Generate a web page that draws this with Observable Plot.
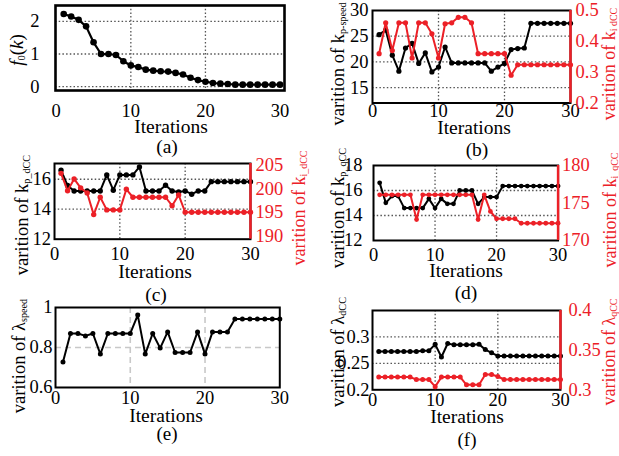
<!DOCTYPE html>
<html><head><meta charset="utf-8">
<script src="https://cdn.jsdelivr.net/npm/d3@7"></script>
<script src="https://cdn.jsdelivr.net/npm/@observablehq/plot@0.6"></script>
<style>
body{margin:0;background:#fff;}
#fig{position:relative;width:619px;height:456px;overflow:hidden;background:#fff;font-family:"Liberation Serif","Times New Roman",serif;color:#000;}
.lbl{position:absolute;white-space:nowrap;line-height:1;transform:translate(-50%,-50%);}
.rot{transform:translate(-50%,-50%) rotate(-90deg);}
.lbl sub{font-size:0.55em;vertical-align:-0.22em;line-height:0;}
.red{color:#ec2027;}
</style></head><body><div id="fig"></div>
<script>
// ---------- data ----------
const iterations = [1,2,3,4,5,6,7,8,9,10,11,12,13,14,15,16,17,18,19,20,21,22,23,24,25,26,27,28,29,30];
const xTicks = [0,10,20,30];

// (a) objective
const aF0 = [2.23,2.15,2.05,1.85,1.36,1.0,1.0,0.97,0.78,0.65,0.6,0.52,0.49,0.47,0.46,0.42,0.37,0.27,0.2,0.15,0.11,0.09,0.08,0.06,0.06,0.06,0.06,0.06,0.06,0.06];
const aYTicks = [0,1,2];

// (b) k_p-speed (left) and k_i dCC (right)
const bKp = [25.3,26.2,21.3,18.2,22.7,23.6,19.7,21.75,18.05,19.0,22.9,19.8,19.8,19.8,19.8,19.8,19.8,18.2,19.0,19.7,22.4,22.6,22.7,27.5,27.5,27.5,27.5,27.5,27.5,27.5];
const bKi = [0.36,0.46,0.37,0.46,0.46,0.346,0.46,0.46,0.4245,0.346,0.457,0.46,0.478,0.478,0.46,0.36,0.36,0.36,0.36,0.36,0.29,0.324,0.324,0.324,0.324,0.324,0.324,0.324,0.324,0.324];
const bYTicks = [15,20,25,30];
const bY2Ticks = [0.2,0.3,0.4,0.5];

// (c) k_p_dCC (left) and k_i_dCC (right)
const cKp = [16.6,15.58,15.22,15.22,15.22,15.22,15.22,16.29,15.27,16.29,16.29,16.29,16.82,15.22,15.22,15.22,15.6,15.22,15.15,15.22,15.0,15.22,15.22,15.84,15.84,15.84,15.84,15.84,15.84,15.84];
const cKi = [203.3,199.6,202.1,200.2,199.1,194.5,198.2,195.5,195.5,195.5,199.9,198.2,198.2,198.2,198.2,198.2,198.2,196.4,198.7,195.0,195.0,195.0,195.0,195.0,195.0,195.0,195.0,195.0,195.0,195.0];
const cYTicks = [12,14,16];
const cY2Ticks = [190,195,200,205];

// (d) k_p_qCC (left) and k_i_qCC (right)
const dKp = [16.61,15.01,15.55,15.55,14.59,14.59,14.59,14.59,15.33,14.59,15.33,14.93,14.93,16.0,16.0,16.0,14.93,15.47,15.47,15.47,16.35,16.35,16.35,16.35,16.35,16.35,16.35,16.35,16.35,16.35];
const dKi = [176.09,176.09,176.09,176.09,176.09,176.09,172.8,176.09,176.09,176.09,176.09,176.09,176.09,176.09,176.09,176.09,172.8,176.09,173.87,172.9,172.9,172.9,172.9,172.3,172.3,172.3,172.3,172.3,172.3,172.3];
const dYTicks = [12,14,16,18];
const dY2Ticks = [170,175,180];

// (e) lambda_speed
const eLam = [0.728,0.87,0.87,0.858,0.87,0.767,0.87,0.87,0.87,0.87,0.962,0.767,0.87,0.797,0.878,0.775,0.775,0.775,0.878,0.767,0.878,0.878,0.878,0.942,0.942,0.942,0.942,0.942,0.942,0.942];
const eYTicks = [0.6,0.8,1];

// (f) lambda_dCC (left) and lambda_qCC (right)
const fLd = [0.2725,0.2725,0.2725,0.2725,0.2725,0.2725,0.2725,0.274,0.274,0.286,0.262,0.2875,0.285,0.285,0.285,0.285,0.286,0.276,0.27,0.264,0.264,0.264,0.264,0.264,0.264,0.264,0.264,0.264,0.264,0.264];
const fLq = [0.316,0.316,0.316,0.316,0.316,0.316,0.313,0.313,0.313,0.304,0.316,0.316,0.316,0.316,0.3063,0.3063,0.3063,0.3193,0.3193,0.3168,0.313,0.313,0.313,0.313,0.313,0.313,0.313,0.313,0.313,0.313];
const fYTicks = [0.2,0.25,0.3];
const fY2Ticks = [0.3,0.35,0.4];

// ---------- drawing ----------
const RED = "#ec2027";
const FONT = '"Liberation Serif","Times New Roman",serif';
const fig = document.getElementById("fig");
const fmt = d => `${d}`;
const series = vals => iterations.map((it, i) => ({it, v: vals[i]}));

function place(el, left, top){
  el.style.position = "absolute";
  el.style.left = left + "px";
  el.style.top = top + "px";
  fig.appendChild(el);
}

function panel(p){
  const ml = 60, mr = 60, mt = 12, mb = 40;
  const [x0, y0, x1, y1] = p.frame;
  const common = {
    width: (x1 - x0) + ml + mr, height: (y1 - y0) + mt + mb,
    marginLeft: ml, marginRight: mr, marginTop: mt, marginBottom: mb,
    style: {fontFamily: FONT, fontSize: "18.5px", background: "transparent", overflow: "visible", color: "black"}
  };
  const gridOpt = {stroke: p.gridColor, strokeOpacity: 1, strokeDasharray: p.dash, strokeWidth: p.gridW};
  const base = Plot.plot({
    ...common,
    x: {domain: p.xDomain},
    y: {domain: p.yDomain},
    marks: [
      Plot.gridX(p.gridX, gridOpt),
      Plot.gridY(p.gridY, gridOpt),
      Plot.line(series(p.values), {x: "it", y: "v", stroke: "black", strokeWidth: p.lw}),
      Plot.dot(series(p.values), {x: "it", y: "v", r: p.r, fill: "black"}),
      Plot.frame({stroke: "black", strokeWidth: p.fw}),
      Plot.axisX({ticks: xTicks, tickSize: 0, tickPadding: p.xPad, tickFormat: fmt, label: null, fontFamily: FONT}),
      Plot.axisY({ticks: p.yTicks, tickSize: 0, tickPadding: p.yPad, tickFormat: fmt, label: null, fontFamily: FONT})
    ]
  });
  place(base, x0 - ml, y0 - mt);
  if (p.values2) {
    const over = Plot.plot({
      ...common,
      style: {...common.style, color: RED},
      x: {domain: p.xDomain, axis: null},
      y: {domain: p.y2Domain},
      marks: [
        Plot.line(series(p.values2), {x: "it", y: "v", stroke: RED, strokeWidth: p.lw}),
        Plot.dot(series(p.values2), {x: "it", y: "v", r: p.r, fill: RED}),
        Plot.ruleX([p.xDomain[1]], {stroke: RED, strokeWidth: p.fw + 0.5}),
        Plot.axisY({ticks: p.y2Ticks, anchor: "right", tickSize: 0, tickPadding: p.y2Pad, tickFormat: fmt, label: null, fontFamily: FONT})
      ]
    });
    place(over, x0 - ml, y0 - mt);
  }
}

function label(html, cx, cy, size, opts = {}){
  const d = document.createElement("div");
  d.className = "lbl" + (opts.rot ? " rot" : "") + (opts.red ? " red" : "");
  d.style.left = cx + "px";
  d.style.top = cy + "px";
  d.style.fontSize = size + "px";
  d.innerHTML = html;
  fig.appendChild(d);
}

const dotted = {gridColor: "#555", dash: "1.5,2.2", gridW: 1.3};

panel({frame: [55, 5, 284, 90], xDomain: [-0.1, 30.6], yDomain: [-0.12, 2.49],
  values: aF0, yTicks: aYTicks, gridX: [10, 20], gridY: [0, 1, 2], ...dotted,
  lw: 2.2, r: 3.3, fw: 2.6, xPad: 13, yPad: 16});

panel({frame: [372, 10, 570, 102.5], xDomain: [0, 30], yDomain: [12, 30], y2Domain: [0.2, 0.5],
  values: bKp, values2: bKi, yTicks: bYTicks, y2Ticks: bY2Ticks, gridX: [10, 20], gridY: [15, 20, 25], ...dotted,
  lw: 2, r: 2.6, fw: 2, xPad: 1, yPad: 4, y2Pad: 5});

panel({frame: [54, 163, 250, 238.7], xDomain: [0, 30], yDomain: [12, 17.05], y2Domain: [189.25, 205.4],
  values: cKp, values2: cKi, yTicks: cYTicks, y2Ticks: cY2Ticks, gridX: [10, 20], gridY: [14, 16], ...dotted,
  lw: 2, r: 2.7, fw: 2, xPad: 8, yPad: 3.5, y2Pad: 5});

panel({frame: [373, 165, 557.6, 240], xDomain: [0, 30], yDomain: [12, 18], y2Domain: [170, 180],
  values: dKp, values2: dKi, yTicks: dYTicks, y2Ticks: dY2Ticks, gridX: [10, 20], gridY: [14, 16], ...dotted,
  lw: 2, r: 2.4, fw: 2, xPad: 7, yPad: 11, y2Pad: 4});

panel({frame: [55, 307.3, 279.3, 387.3], xDomain: [0, 30], yDomain: [0.6, 1.0],
  values: eLam, yTicks: eYTicks, gridX: [10, 20], gridY: [0.8], gridColor: "#c8c8c8", dash: "6,4", gridW: 1.6,
  lw: 2, r: 2.5, fw: 2, xPad: 3.5, yPad: 3});

panel({frame: [372, 310, 560, 389.3], xDomain: [0, 30], yDomain: [0.2, 0.35], y2Domain: [0.3, 0.4],
  values: fLd, values2: fLq, yTicks: fYTicks, y2Ticks: fY2Ticks, gridX: [10, 20], gridY: [0.25, 0.3], ...dotted,
  lw: 2, r: 2.5, fw: 2, xPad: 3, yPad: 3, y2Pad: 8});

// axis titles and captions
const xTitle = "Iterations";
label(xTitle, 171, 126.5, 19.5); label("(a)", 167, 147, 19.5);
label(xTitle, 474, 128, 19.5); label("(b)", 477, 149.5, 19.5);
label(xTitle, 155, 272, 19.5); label("(c)", 156, 294.5, 19.5);
label(xTitle, 466, 271, 19.5); label("(d)", 466, 292.5, 19.5);
label(xTitle, 166, 416, 19.5); label("(e)", 167, 433, 19);
label(xTitle, 467, 416.5, 19.5); label("(f)", 467, 439, 19);

label("<i>f</i><sub>0</sub>(<i>k</i>)", 16, 50, 19, {rot: true});
label("varition of k<sub>p-speed</sub>", 338, 64, 18.5, {rot: true});
label("varition of k<sub>i dCC</sub>", 609, 64, 18, {rot: true, red: true});
label("varition of k<sub>i_dCC</sub>", 298.5, 208, 18, {rot: true, red: true});
label("varition of k<sub>p_dCC</sub>", 22, 215, 18.5, {rot: true});
label("varition of k<sub>p_qCC</sub>", 338, 208, 18.5, {rot: true});
label("varition of k<sub>i_qCC</sub>", 609.5, 210, 18, {rot: true, red: true});
label("varition of λ<sub>speed</sub>", 19, 356, 18.5, {rot: true});
label("varition of λ<sub>dCC</sub>", 338, 352, 18.5, {rot: true});
label("varition of λ<sub>qCC</sub>", 609, 352, 18, {rot: true, red: true});
</script></body></html>
